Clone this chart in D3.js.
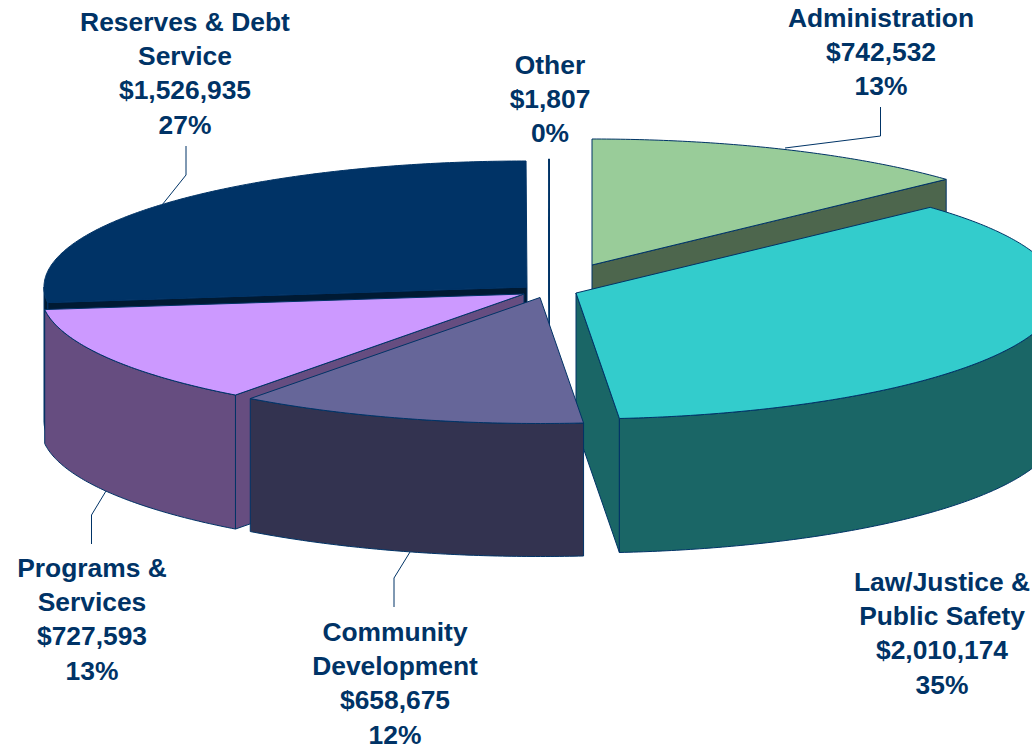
<!DOCTYPE html>
<html>
<head>
<meta charset="utf-8">
<script src="https://cdn.jsdelivr.net/npm/d3@7/dist/d3.min.js"></script>
<style>
html,body{margin:0;padding:0;background:#fff;overflow:hidden}
svg{display:block}
text{font-family:"Liberation Sans",Arial,sans-serif;font-weight:bold;font-size:26.4px;fill:#003366;text-anchor:middle}
</style>
</head>
<body>
<script>
// ---- data ----
const categories = ["Administration","Law/Justice & Public Safety","Community Development","Programs & Services","Reserves & Debt Service","Other"];
const amounts = [742532,2010174,658675,727593,1526935,1807];
const amountLabels = ["$742,532","$2,010,174","$658,675","$727,593","$1,526,935","$1,807"];
const percentLabels = ["13%","35%","12%","13%","27%","0%"];
const nameLines = [["Administration"],["Law/Justice &","Public Safety"],["Community","Development"],["Programs &","Services"],["Reserves & Debt","Service"],["Other"]];

// ---- layout and style (not data) ----
const W = 1032, H = 747;
const radiiX = [483,483,485,483,483,483], ry = 126, depths = [134,134,133,134,134,134];
const topColors  = ["#99CC99","#33CCCC","#666699","#CC99FF","#003366","#FFFFFF"];
const wallColors = ["#4D664D","#1A6666","#333350","#664D80","#001A33","#FFFFFF"];
const edge = "#003366";
const explodeCentres = [[592,265],[576,293],[540,297.5],[524,294],[527,287],[549.5,285]];
const paintOrder = [4,5,0,3,1,2];
const labelAnchors = [[881,27],[942,591],[395,641],[92,577],[185,31],[550,74]];
const lineStep = 34.2;
const leaders = [
  [[880.5,107],[880.5,136],[785,148]],
  null,
  [[394,607],[394,578],[410,552]],
  [[91.5,544],[91.5,515],[106,491]],
  [[186,146],[186,175],[162,205]],
  null
];

const svg = d3.select("body").append("svg").attr("width",W).attr("height",H).attr("viewBox",`0 0 ${W} ${H}`);
const arcs = d3.pie().sort(null).startAngle(0).endAngle(2*Math.PI)(amounts);
const line = d3.line();
const closed = pts => line(pts) + "Z";

function rim(c, rx, a, dz=0){ return [c[0] + rx*Math.sin(a), c[1] - ry*Math.cos(a) + dz]; }
function sweep(c, rx, a0, a1, dz=0){
  const n = Math.max(2, Math.ceil(Math.abs(a1-a0)/0.01));
  return d3.range(n+1).map(i => rim(c, rx, a0 + (a1-a0)*i/n, dz));
}
function drawFace(pts, fill){
  svg.append("path").attr("d",closed(pts)).attr("fill",fill)
    .attr("stroke",edge).attr("stroke-width",1).attr("stroke-linejoin","round");
}

paintOrder.forEach(i => {
  const c = explodeCentres[i], rx = radiiX[i], depth = depths[i], a0 = arcs[i].startAngle, a1 = arcs[i].endAngle;
  const down = (p) => [p[0], p[1]+depth];
  // cut faces turned toward the viewer
  if (Math.cos(a0 - Math.PI/2) < 0) {
    const r = rim(c,rx,a0);
    drawFace([c, r, down(r), down(c)], wallColors[i]);
  }
  if (Math.cos(a1 + Math.PI/2) < 0) {
    const r = rim(c,rx,a1);
    drawFace([c, r, down(r), down(c)], wallColors[i]);
  }
  // outer wall on the front half of the ellipse
  const f0 = Math.max(a0, Math.PI/2), f1 = Math.min(a1, 3*Math.PI/2);
  if (f1 > f0) {
    const upper = sweep(c,rx,f0,f1), lower = sweep(c,rx,f0,f1,depth).reverse();
    drawFace(upper.concat(lower), wallColors[i]);
  }
  // top face
  drawFace([c].concat(sweep(c,rx,a0,a1)), topColors[i]);
});

// leader lines
leaders.forEach(l => {
  if (!l) return;
  svg.append("path").attr("d",line(l)).attr("fill","none").attr("stroke",edge).attr("stroke-width",1);
});

// labels
categories.forEach((name,i) => {
  const rows = nameLines[i].concat([amountLabels[i],percentLabels[i]]);
  const t = svg.append("text").attr("aria-label",name);
  rows.forEach((r,k) => {
    t.append("tspan").attr("x",labelAnchors[i][0]).attr("y",labelAnchors[i][1]+k*lineStep).text(r);
  });
});
</script>
</body>
</html>
